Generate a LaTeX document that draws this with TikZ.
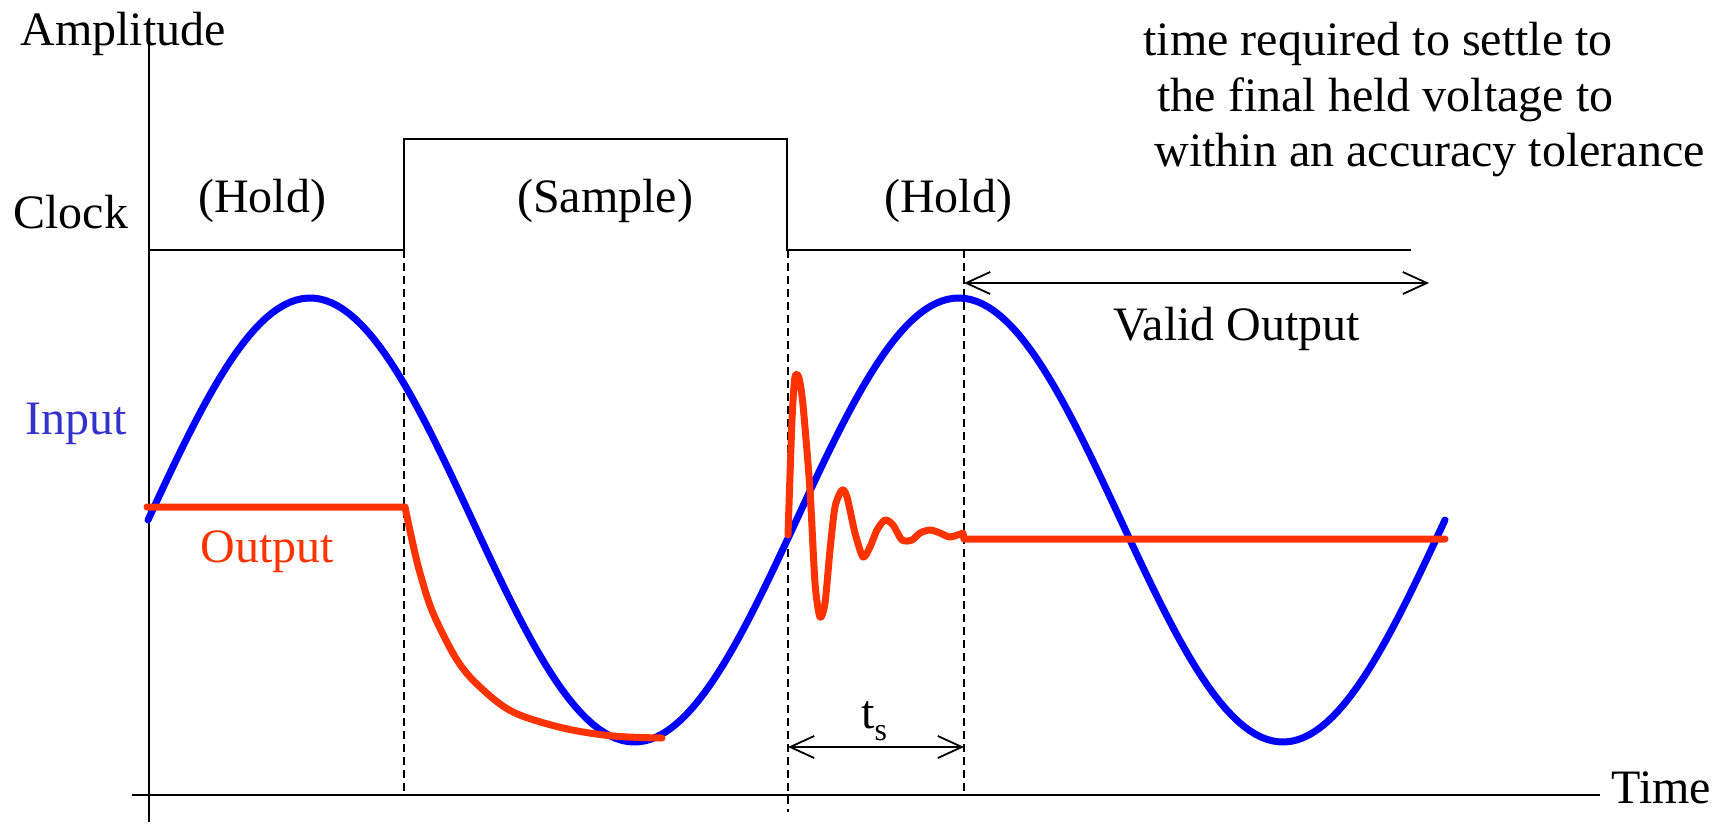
\documentclass[tikz,border=0pt]{standalone}
\usepackage{fontspec}
\setmainfont{Liberation Serif}
\usetikzlibrary{arrows.meta}
\definecolor{inblue}{RGB}{0,0,255}
\definecolor{outred}{RGB}{255,51,0}
\definecolor{inlabel}{RGB}{51,51,204}
\tikzset{
  lbl/.style={inner sep=0pt, anchor=base west},
  ctr/.style={inner sep=0pt, anchor=base},
  thinline/.style={line width=1pt, line join=miter},
  dashline/.style={line width=0.75pt, dash pattern=on 4pt off 2.5pt},
  wave/.style={line width=3.5pt, line cap=round, line join=round},
  dimarrow/.style={line width=0.9pt, {Straight Barb[length=12pt,width=11pt]}-{Straight Barb[length=12pt,width=11pt]}},
}
\begin{document}
\begin{tikzpicture}[x=0.5pt, y=-0.5pt, font=\fontsize{24}{29}\selectfont]
\useasboundingbox (0,0) rectangle (1724,825);

% axes
\coordinate (ytop) at (149,43);
\coordinate (ybot) at (149,822);
\coordinate (xl) at (132,795);
\coordinate (xr) at (1600,795);
\draw[thinline] (ytop) -- (ybot);
\draw[thinline] (xl) -- (xr);

% clock
\coordinate (c0) at (149,250);
\coordinate (c1) at (404,250);
\coordinate (c2) at (404,139);
\coordinate (c3) at (787,139);
\coordinate (c4) at (787,250);
\coordinate (c5) at (1411,250);
\draw[thinline] (c0) -- (c1) -- (c2) -- (c3) -- (c4) -- (c5);

% dashed markers
\coordinate (d1t) at (404,250);
\coordinate (d1b) at (404,795);
\coordinate (d2t) at (788,250);
\coordinate (d2b) at (788,812);
\coordinate (d3t) at (964,250);
\coordinate (d3b) at (964,795);
\draw[dashline] (d1t) -- (d1b);
\draw[dashline] (d2t) -- (d2b);
\draw[dashline] (d3t) -- (d3b);

% input sine
\draw[wave, inblue] plot[domain=148:1445, samples=220] ({\x}, {520 - 222*sin(0.555127*(\x-148))});

% output (red)
\draw[wave, outred] (147,507) -- (405,507)
  plot[smooth, tension=0.55] coordinates {(405,507) (412,540) (420,573) (433,613) (457,660) (480,687) (513,712) (563,728) (613,736) (662,738)};
\draw[wave, outred] plot[smooth, tension=0.45] coordinates {(788,535) (792,420) (795,377) (799,378) (803,405) (810,490) (815,583) (820,617) (825,603) (830,550) (835,507) (842,490) (847,497) (855,533) (863,557) (870,547) (877,530) (885,520) (893,525) (902,540) (912,540) (920,533) (930,530) (940,533) (950,537) (963,533)}
  -- (964,539) -- (1445,539);

% dimension arrows
\coordinate (va) at (964,283);
\coordinate (vb) at (1429,283);
\draw[dimarrow] (va) -- (vb);
\coordinate (ta) at (788,747);
\coordinate (tb) at (964,747);
\draw[dimarrow] (ta) -- (tb);

% labels
\node[lbl] (amp) at (20,45) {Amplitude};
\node[lbl] (clk) at (13,228) {Clock};
\node[ctr] (hold1) at (262,212) {(Hold)};
\node[ctr] (samp) at (605,212) {(Sample)};
\node[ctr] (hold2) at (948,212) {(Hold)};
\node[lbl, text=inlabel] (inp) at (25,434) {Input};
\node[lbl, text=outred] (outp) at (200,562) {Output};
\node[lbl] (valid) at (1113,340) {Valid Output};
\node[lbl] (time) at (1611,803) {Time};
\node[lbl] (ts) at (861,728) {t\raisebox{-0.55ex}{\fontsize{16}{16}\selectfont s}};
\node[lbl] (n1) at (1143,55) {time required to settle to};
\node[lbl] (n2) at (1157,111) {the final held voltage to};
\node[lbl] (n3) at (1154,166) {within an accuracy tolerance};
\end{tikzpicture}
\end{document}
